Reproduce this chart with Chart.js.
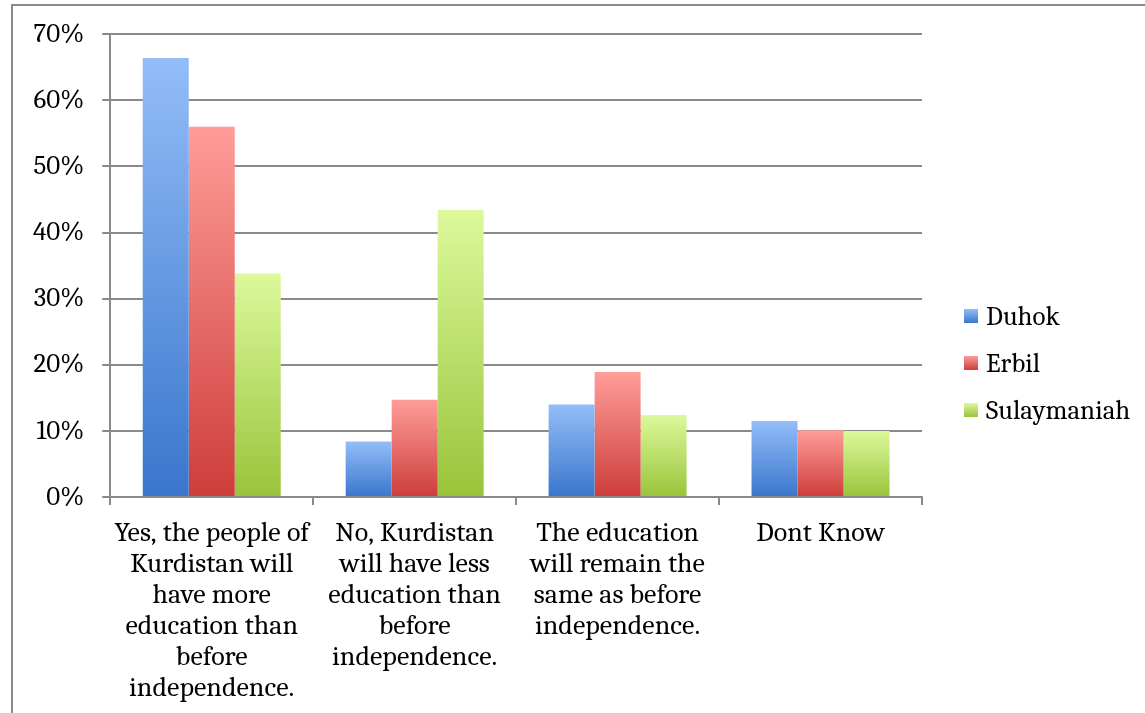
<!DOCTYPE html>
<html>
<head>
<meta charset="utf-8">
<script src="https://cdn.jsdelivr.net/npm/chart.js@4"></script>
<style>
  html, body { margin: 0; padding: 0; background: #fff; overflow: hidden; }
  #wrap { position: relative; width: 1145px; height: 713px; }
  #frame { position: absolute; left: 11px; top: 4px; width: 1200px; height: 800px;
           border: 2px solid #8a8a8a; box-sizing: border-box; }
  canvas { position: absolute; left: 0; top: 0; }
</style>
</head>
<body>
<div id="wrap">
  <div id="frame"></div>
  <canvas id="chart" width="1145" height="713"></canvas>
</div>
<script>
// Datos del gráfico
const categorias = [
    ['Yes, the people of', 'Kurdistan will', 'have more', 'education than', 'before', 'independence.'],
    ['No, Kurdistan', 'will have less', 'education than', 'before', 'independence.'],
    ['The education', 'will remain the', 'same as before', 'independence.'],
    ['Dont Know']
];
const duhok = [66.4, 8.4, 14.0, 11.5];
const erbil = [56.0, 14.7, 18.9, 10.1];
const sulaymaniah = [33.8, 43.4, 12.4, 10.0];
const yTicks = [0, 10, 20, 30, 40, 50, 60, 70];

const FONT = 'Cambria, "DejaVu Serif", serif';
const GRID = '#8a8a8a';
const COLORES = [
    ['#93bdf8', '#3a76cc'],
    ['#ff9d99', '#cd3d3a'],
    ['#dcf99c', '#99c43a']
];

// Degradado vertical por barra (claro arriba, oscuro abajo)
function gradiente(claro, oscuro) {
    return function(context) {
        const chart = context.chart;
        if (!chart.chartArea || !context.parsed) return oscuro;
        const y = chart.scales.y;
        const top = y.getPixelForValue(context.parsed.y);
        const base = y.getPixelForValue(0);
        const g = chart.ctx.createLinearGradient(0, top, 0, base);
        g.addColorStop(0, claro);
        g.addColorStop(1, oscuro);
        return g;
    };
}

// Leyenda a la derecha, dibujada a mano
const leyenda = {
    id: 'leyenda',
    afterDraw(chart) {
        const ctx = chart.ctx;
        const x = chart.chartArea.right + 42;
        const y0 = 316;
        const paso = 47;
        ctx.save();
        ctx.font = '27px ' + FONT;
        ctx.textBaseline = 'middle';
        ctx.fillStyle = '#000';
        chart.data.datasets.forEach((ds, i) => {
            const y = y0 + i * paso;
            const g = ctx.createLinearGradient(0, y - 7, 0, y + 7);
            g.addColorStop(0, COLORES[i][0]);
            g.addColorStop(1, COLORES[i][1]);
            ctx.fillStyle = g;
            ctx.fillRect(x, y - 7, 14, 14);
            ctx.fillStyle = '#000';
            ctx.fillText(ds.label, x + 22, y + 1);
        });
        ctx.restore();
    }
};

new Chart(document.getElementById('chart'), {
    type: 'bar',
    data: {
        labels: categorias,
        datasets: [
            { label: 'Duhok', data: duhok, backgroundColor: gradiente(COLORES[0][0], COLORES[0][1]) },
            { label: 'Erbil', data: erbil, backgroundColor: gradiente(COLORES[1][0], COLORES[1][1]) },
            { label: 'Sulaymaniah', data: sulaymaniah, backgroundColor: gradiente(COLORES[2][0], COLORES[2][1]) }
        ]
    },
    plugins: [leyenda],
    options: {
        responsive: false,
        animation: false,
        layout: { padding: { left: 15, top: 28, right: 223, bottom: -4 } },
        datasets: { bar: { categoryPercentage: 0.68, barPercentage: 1.0 } },
        scales: {
            x: {
                grid: { display: true, drawOnChartArea: false, drawTicks: true, tickLength: 8, color: GRID, lineWidth: 2 },
                border: { color: GRID, width: 2 },
                ticks: {
                    color: '#000',
                    padding: 13,
                    maxRotation: 0,
                    autoSkip: false,
                    font: { family: FONT, size: 28, lineHeight: 31 / 28 }
                }
            },
            y: {
                min: 0,
                max: 70,
                afterBuildTicks: axis => { axis.ticks = yTicks.map(v => ({ value: v })); },
                grid: { color: GRID, lineWidth: 2, tickLength: 8 },
                border: { color: GRID, width: 2 },
                ticks: {
                    color: '#000',
                    padding: 18,
                    font: { family: FONT, size: 27 },
                    callback: v => v + '%'
                }
            }
        },
        plugins: {
            legend: { display: false },
            tooltip: { enabled: false }
        }
    }
});
</script>
</body>
</html>
